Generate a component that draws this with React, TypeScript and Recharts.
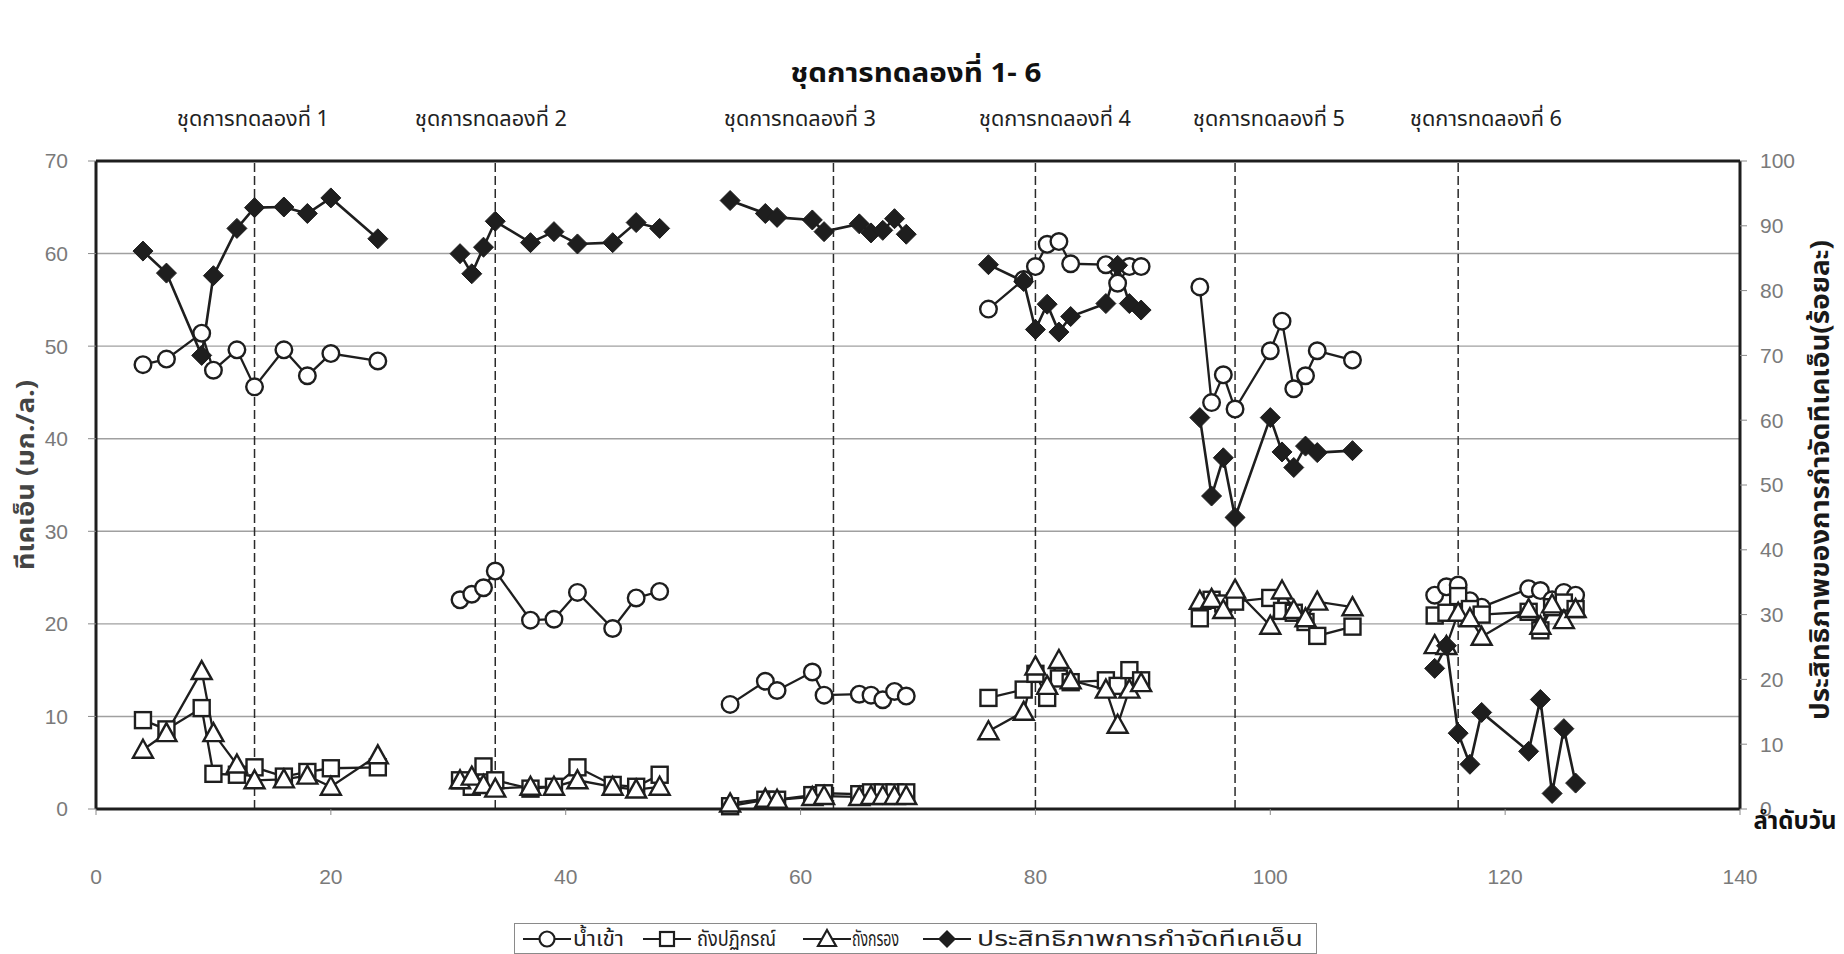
import { CartesianGrid, ComposedChart, Line, ReferenceLine, XAxis, YAxis } from "recharts";

// day numbers of the sampling points, one list per experiment set
const SET_DAYS = [
	[4, 6, 9, 10, 12, 13.5, 16, 18, 20, 24],
	[31, 32, 33, 34, 37, 39, 41, 44, 46, 48],
	[54, 57, 58, 61, 62, 65, 66, 67, 68, 69],
	[76, 79, 80, 81, 82, 83, 86, 87, 88, 89],
	[94, 95, 96, 97, 100, 101, 102, 103, 104, 107],
	[114, 115, 116, 117, 118, 122, 123, 124, 125, 126],
];

// TKN, mg/L
const INFLOW = [
	[48.0, 48.6, 51.4, 47.4, 49.6, 45.6, 49.6, 46.8, 49.2, 48.4],
	[22.6, 23.2, 23.9, 25.7, 20.4, 20.5, 23.4, 19.5, 22.8, 23.5],
	[11.3, 13.8, 12.8, 14.8, 12.3, 12.4, 12.3, 11.8, 12.7, 12.2],
	[54.0, 57.2, 58.6, 61.0, 61.3, 58.9, 58.8, 56.8, 58.6, 58.6],
	[56.4, 43.9, 46.9, 43.2, 49.5, 52.7, 45.4, 46.8, 49.5, 48.5],
	[23.1, 24.0, 24.2, 22.5, 21.8, 23.8, 23.6, 22.6, 23.4, 23.1],
];
const REACTOR = [
	[9.6, 8.6, 10.9, 3.8, 3.7, 4.5, 3.5, 4.0, 4.4, 4.5],
	[3.1, 2.4, 4.6, 3.1, 2.2, 2.4, 4.5, 2.6, 2.4, 3.7],
	[0.3, 1.0, 1.0, 1.5, 1.7, 1.6, 1.8, 1.8, 1.8, 1.8],
	[12.0, 12.9, 14.6, 12.0, 14.1, 13.7, 13.9, 13.3, 15.0, 13.9],
	[20.6, 22.6, 22.2, 22.4, 22.8, 21.4, 21.2, 20.2, 18.7, 19.7],
	[20.9, 21.2, 23.0, 21.6, 21.0, 21.3, 19.3, 21.8, 22.3, 21.6],
];
const FILTER = [
	[6.4, 8.2, 14.9, 8.2, 4.8, 3.1, 3.2, 3.6, 2.4, 5.8],
	[3.1, 3.5, 2.6, 2.2, 2.4, 2.4, 3.1, 2.4, 2.1, 2.4],
	[0.6, 1.1, 1.0, 1.3, 1.4, 1.3, 1.4, 1.4, 1.4, 1.4],
	[8.4, 10.5, 15.4, 13.3, 16.1, 13.9, 12.9, 9.1, 12.9, 13.6],
	[22.5, 22.7, 21.5, 23.7, 19.8, 23.6, 21.5, 20.6, 22.4, 21.8],
	[17.7, 17.6, 21.2, 20.6, 18.6, 21.6, 19.8, 22.1, 20.4, 21.6],
];
// TKN removal efficiency, %
const EFFICIENCY = [
	[86.1, 82.7, 70.0, 82.3, 89.6, 92.8, 92.9, 91.9, 94.3, 88.0],
	[85.7, 82.6, 86.7, 90.7, 87.4, 89.1, 87.2, 87.4, 90.5, 89.6],
	[93.9, 91.9, 91.3, 90.9, 89.1, 90.3, 88.9, 89.3, 91.1, 88.7],
	[84.0, 81.4, 74.0, 77.9, 73.6, 76.0, 78.0, 83.9, 78.0, 77.0],
	[60.4, 48.3, 54.2, 45.0, 60.4, 55.1, 52.7, 56.0, 55.0, 55.3],
	[21.7, 25.2, 11.7, 6.9, 14.9, 8.9, 16.9, 2.4, 12.4, 4.0],
];

const PHASE_DAYS = [13.5, 34, 62.8, 80, 97, 116];
const SET_TITLES = [
	"ชุดการทดลองที่ 1",
	"ชุดการทดลองที่ 2",
	"ชุดการทดลองที่ 3",
	"ชุดการทดลองที่ 4",
	"ชุดการทดลองที่ 5",
	"ชุดการทดลองที่ 6",
];
const X_TICKS = [0, 20, 40, 60, 80, 100, 120, 140];
const LEFT_TICKS = [0, 10, 20, 30, 40, 50, 60, 70];
const RIGHT_TICKS = [0, 10, 20, 30, 40, 50, 60, 70, 80, 90, 100];

const SERIES_NAMES = ["น้ำเข้า", "ถังปฏิกรณ์", "ถังกรอง", "ประสิทธิภาพการกำจัดทีเคเอ็น"];

// page layout (px)
const W = 1844;
const H = 954;
const SUBTITLE_X = [253, 491, 800, 1055, 1269, 1486];
const LEGEND_MARK_X = [547, 667, 827, 947];
const LEGEND_TEXT_X = [573, 697, 852, 977];
const LEGEND_TEXT_W = [51, 79, 47, 326];
const INK = "#1e1e1e";
const THAI = '"Noto Sans Thai", "Noto Sans Thai UI", "Noto Sans", "DejaVu Sans", sans-serif';
const NUM = '"Liberation Sans", Arial, sans-serif';

type Row = {
	day: number;
	inflow: number | null;
	reactor: number | null;
	filter: number | null;
	efficiency: number | null;
};

// one table for all sets, with an empty row between sets so the lines break
const rows: Row[] = [];
SET_DAYS.forEach((days, s) => {
	if (s > 0) {
		const gap = (SET_DAYS[s - 1][SET_DAYS[s - 1].length - 1] + days[0]) / 2;
		rows.push({ day: gap, inflow: null, reactor: null, filter: null, efficiency: null });
	}
	days.forEach((day, i) => {
		rows.push({
			day,
			inflow: INFLOW[s][i],
			reactor: REACTOR[s][i],
			filter: FILTER[s][i],
			efficiency: EFFICIENCY[s][i],
		});
	});
});

const empty = (p: any) => p.cx == null || p.cy == null || p.value == null;

const CircleDot = (p: any) =>
	empty(p) ? (
		<g key={`c${p.index}`} />
	) : (
		<circle key={`c${p.index}`} cx={p.cx} cy={p.cy} r={8.3} fill="#fff" stroke={INK} strokeWidth={2.4} />
	);

const SquareDot = (p: any) =>
	empty(p) ? (
		<g key={`s${p.index}`} />
	) : (
		<rect key={`s${p.index}`} x={p.cx - 8} y={p.cy - 8} width={16} height={16} fill="#fff" stroke={INK} strokeWidth={2.4} />
	);

const TriangleDot = (p: any) =>
	empty(p) ? (
		<g key={`t${p.index}`} />
	) : (
		<polygon
			key={`t${p.index}`}
			points={`${p.cx},${p.cy - 10} ${p.cx + 10},${p.cy + 8} ${p.cx - 10},${p.cy + 8}`}
			fill="#fff"
			stroke={INK}
			strokeWidth={2.4}
		/>
	);

const DiamondDot = (p: any) =>
	empty(p) ? (
		<g key={`d${p.index}`} />
	) : (
		<polygon
			key={`d${p.index}`}
			points={`${p.cx},${p.cy - 10} ${p.cx + 10},${p.cy} ${p.cx},${p.cy + 10} ${p.cx - 10},${p.cy}`}
			fill={INK}
			stroke={INK}
			strokeWidth={1}
		/>
	);

function LegendMarker({ kind, x, y }: { kind: number; x: number; y: number }) {
	return (
		<g>
			<line x1={x - 24} y1={y} x2={x + 24} y2={y} stroke={INK} strokeWidth={2.2} />
			{kind === 0 && <circle cx={x} cy={y} r={7.5} fill="#fff" stroke={INK} strokeWidth={2.2} />}
			{kind === 1 && <rect x={x - 7} y={y - 7} width={14} height={14} fill="#fff" stroke={INK} strokeWidth={2.2} />}
			{kind === 2 && <polygon points={`${x},${y - 9} ${x + 9},${y + 7} ${x - 9},${y + 7}`} fill="#fff" stroke={INK} strokeWidth={2.2} />}
			{kind === 3 && <polygon points={`${x},${y - 9} ${x + 9},${y} ${x},${y + 9} ${x - 9},${y}`} fill={INK} />}
		</g>
	);
}

// titles, axis names and the legend, laid over the chart
function Annotations() {
	return (
		<svg width={W} height={H} style={{ position: "absolute", left: 0, top: 0, pointerEvents: "none" }}>
			<g fontFamily={THAI} dominantBaseline="central">
				<text x={916} y={73} textAnchor="middle" fontSize={27} fontWeight={700} fill="#111" textLength={251} lengthAdjust="spacingAndGlyphs">
					ชุดการทดลองที่ 1- 6
				</text>
				{SET_TITLES.map((t, i) => (
					<text key={t} x={SUBTITLE_X[i]} y={119} textAnchor="middle" fontSize={21} fill="#222" textLength={152} lengthAdjust="spacingAndGlyphs">
						{t}
					</text>
				))}
				<text
					transform="translate(26,475) rotate(-90)"
					textAnchor="middle"
					fontSize={25}
					fontWeight={700}
					fill="#444"
					textLength={190}
					lengthAdjust="spacingAndGlyphs"
				>
					ทีเคเอ็น (มก./ล.)
				</text>
				<text
					transform="translate(1821,480) rotate(-90)"
					textAnchor="middle"
					fontSize={26}
					fontWeight={700}
					fill="#1a1a1a"
					textLength={480}
					lengthAdjust="spacingAndGlyphs"
				>
					ประสิทธิภาพของการกำจัดทีเคเอ็น(ร้อยละ)
				</text>
				<text x={1795} y={822} textAnchor="middle" fontSize={24} fontWeight={700} fill="#111">
					ลำดับวัน
				</text>

				<rect x={514.5} y={923.5} width={802} height={30} fill="#fff" stroke="#8a8a8a" strokeWidth={1} />
				{SERIES_NAMES.map((name, i) => (
					<g key={name}>
						<LegendMarker kind={i} x={LEGEND_MARK_X[i]} y={939} />
						<text
							x={LEGEND_TEXT_X[i]}
							y={939}
							fontSize={21}
							fill="#222"
							textLength={LEGEND_TEXT_W[i]}
							lengthAdjust="spacingAndGlyphs"
						>
							{name}
						</text>
					</g>
				))}
			</g>
		</svg>
	);
}

export default function App() {
	const tick = { fill: "#7a7a7a", fontSize: 21, fontFamily: NUM };
	return (
		<div style={{ position: "absolute", left: 0, top: 0, width: W, height: H, background: "#fff", overflow: "hidden" }}>
			<ComposedChart width={W} height={H} data={rows} margin={{ top: 161, left: 36, right: 24, bottom: 65 }}>
				<CartesianGrid yAxisId="left" vertical={false} stroke="#a0a0a0" strokeWidth={1.4} />
				<XAxis
					type="number"
					dataKey="day"
					domain={[0, 140]}
					ticks={X_TICKS}
					height={80}
					tickSize={6}
					tickMargin={54}
					tick={tick}
					tickLine={{ stroke: "#8a8a8a" }}
					axisLine={{ stroke: INK, strokeWidth: 3 }}
				/>
				<YAxis
					yAxisId="left"
					domain={[0, 70]}
					ticks={LEFT_TICKS}
					width={60}
					tickSize={8}
					tickMargin={20}
					tick={tick}
					tickLine={{ stroke: "#8a8a8a" }}
					axisLine={{ stroke: INK, strokeWidth: 3 }}
				/>
				<YAxis
					yAxisId="right"
					orientation="right"
					domain={[0, 100]}
					ticks={RIGHT_TICKS}
					width={80}
					tickSize={7}
					tickMargin={13}
					tick={tick}
					tickLine={{ stroke: "#8a8a8a" }}
					axisLine={{ stroke: INK, strokeWidth: 3 }}
				/>
				<ReferenceLine yAxisId="left" y={70} stroke={INK} strokeWidth={3} />
				{PHASE_DAYS.map((d) => (
					<ReferenceLine key={d} yAxisId="left" x={d} stroke="#2a2a2a" strokeWidth={1.5} strokeDasharray="9 4" />
				))}
				<Line
					yAxisId="left"
					dataKey="inflow"
					stroke={INK}
					strokeWidth={2.3}
					dot={CircleDot}
					activeDot={false}
					isAnimationActive={false}
				/>
				<Line
					yAxisId="left"
					dataKey="reactor"
					stroke={INK}
					strokeWidth={2.3}
					dot={SquareDot}
					activeDot={false}
					isAnimationActive={false}
				/>
				<Line
					yAxisId="left"
					dataKey="filter"
					stroke={INK}
					strokeWidth={2.3}
					dot={TriangleDot}
					activeDot={false}
					isAnimationActive={false}
				/>
				<Line
					yAxisId="right"
					dataKey="efficiency"
					stroke={INK}
					strokeWidth={2.6}
					dot={DiamondDot}
					activeDot={false}
					isAnimationActive={false}
				/>
			</ComposedChart>
			<Annotations />
		</div>
	);
}
